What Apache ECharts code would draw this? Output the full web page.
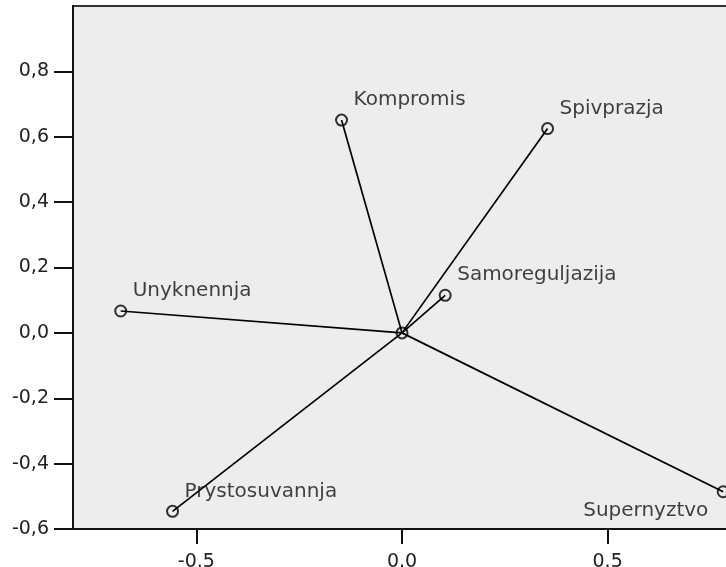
<!DOCTYPE html>
<html>
<head>
<meta charset="utf-8">
<script src="https://cdn.jsdelivr.net/npm/echarts@6/dist/echarts.min.js"></script>
<style>
html,body{margin:0;padding:0;background:#fff;}
#chart{width:726px;height:567px;}
</style>
</head>
<body>
<div id="chart"></div>
<script>
// Data
const categories = ['Kompromis', 'Spivprazja', 'Samoreguljazija', 'Unyknennja', 'Prystosuvannja', 'Supernyztvo'];
const xValues = [-0.147, 0.354, 0.105, -0.684, -0.558, 0.781];
const yValues = [0.651, 0.625, 0.115, 0.067, -0.546, -0.486];
const origin = [0, 0];
const xTickValues = [-0.5, 0.0, 0.5];
const yTickValues = [-0.6, -0.4, -0.2, 0.0, 0.2, 0.4, 0.6, 0.8];

// Label placement (layout only): text left edge / vertical centre relative to marker centre
const labelPlacement = {
  'Supernyztvo': { dx: -139, dy: 20 }
};
const defaultPlacement = { dx: 13, dy: -19 };
const SYMBOL = 11;

const chart = echarts.init(document.getElementById('chart'), null, { renderer: 'canvas' });

const lineSeries = categories.map((name, i) => ({
  type: 'line',
  name: name,
  data: [origin, [xValues[i], yValues[i]]],
  symbol: 'none',
  lineStyle: { color: '#000', width: 1.7 },
  silent: true,
  z: 2
}));

const pointData = categories.map((name, i) => {
  const p = labelPlacement[name] || defaultPlacement;
  return {
    name: name,
    value: [xValues[i], yValues[i]],
    label: {
      show: true,
      position: [p.dx + SYMBOL / 2, p.dy + SYMBOL / 2],
      align: 'left', verticalAlign: 'middle',
      formatter: name
    }
  };
});

const option = {
  animation: false,
  backgroundColor: '#ffffff',
  grid: {
    left: 73, top: 6, right: -5, bottom: 38,
    containLabel: false, outerBoundsMode: 'none',
    show: true, backgroundColor: '#ECEDEC', borderColor: '#333', borderWidth: 2
  },
  xAxis: {
    type: 'value', min: -0.8, max: 0.8,
    splitLine: { show: false },
    axisLine: { show: true, onZero: false, lineStyle: { color: '#111', width: 2 } },
    axisTick: { show: true, length: 15, lineStyle: { color: '#111', width: 2 }, customValues: xTickValues },
    axisLabel: {
      show: true, margin: 24, color: '#222', fontFamily: 'DejaVu Sans', fontSize: 19,
      customValues: xTickValues,
      formatter: v => v.toFixed(1)
    }
  },
  yAxis: {
    type: 'value', min: -0.6, max: 1.0,
    splitLine: { show: false },
    axisLine: { show: true, onZero: false, lineStyle: { color: '#111', width: 2 } },
    axisTick: { show: true, length: 19, lineStyle: { color: '#111', width: 2 }, customValues: yTickValues },
    axisLabel: {
      show: true, margin: 24, color: '#222', fontFamily: 'DejaVu Sans', fontSize: 19,
      customValues: yTickValues,
      formatter: v => v.toFixed(1).replace('.', ',')
    }
  },
  series: lineSeries.concat([
    {
      type: 'scatter',
      name: 'origin',
      data: [origin],
      symbol: 'circle', symbolSize: SYMBOL,
      itemStyle: { color: 'rgba(0,0,0,0)', borderColor: '#000', borderWidth: 2 },
      z: 3
    },
    {
      type: 'scatter',
      name: 'points',
      data: pointData,
      symbol: 'circle', symbolSize: SYMBOL,
      itemStyle: { color: 'rgba(0,0,0,0)', borderColor: '#000', borderWidth: 2 },
      label: { color: '#111', fontFamily: 'DejaVu Sans', fontSize: 20 },
      labelLayout: { hideOverlap: false },
      z: 4
    }
  ])
};
chart.setOption(option);
</script>
</body>
</html>
